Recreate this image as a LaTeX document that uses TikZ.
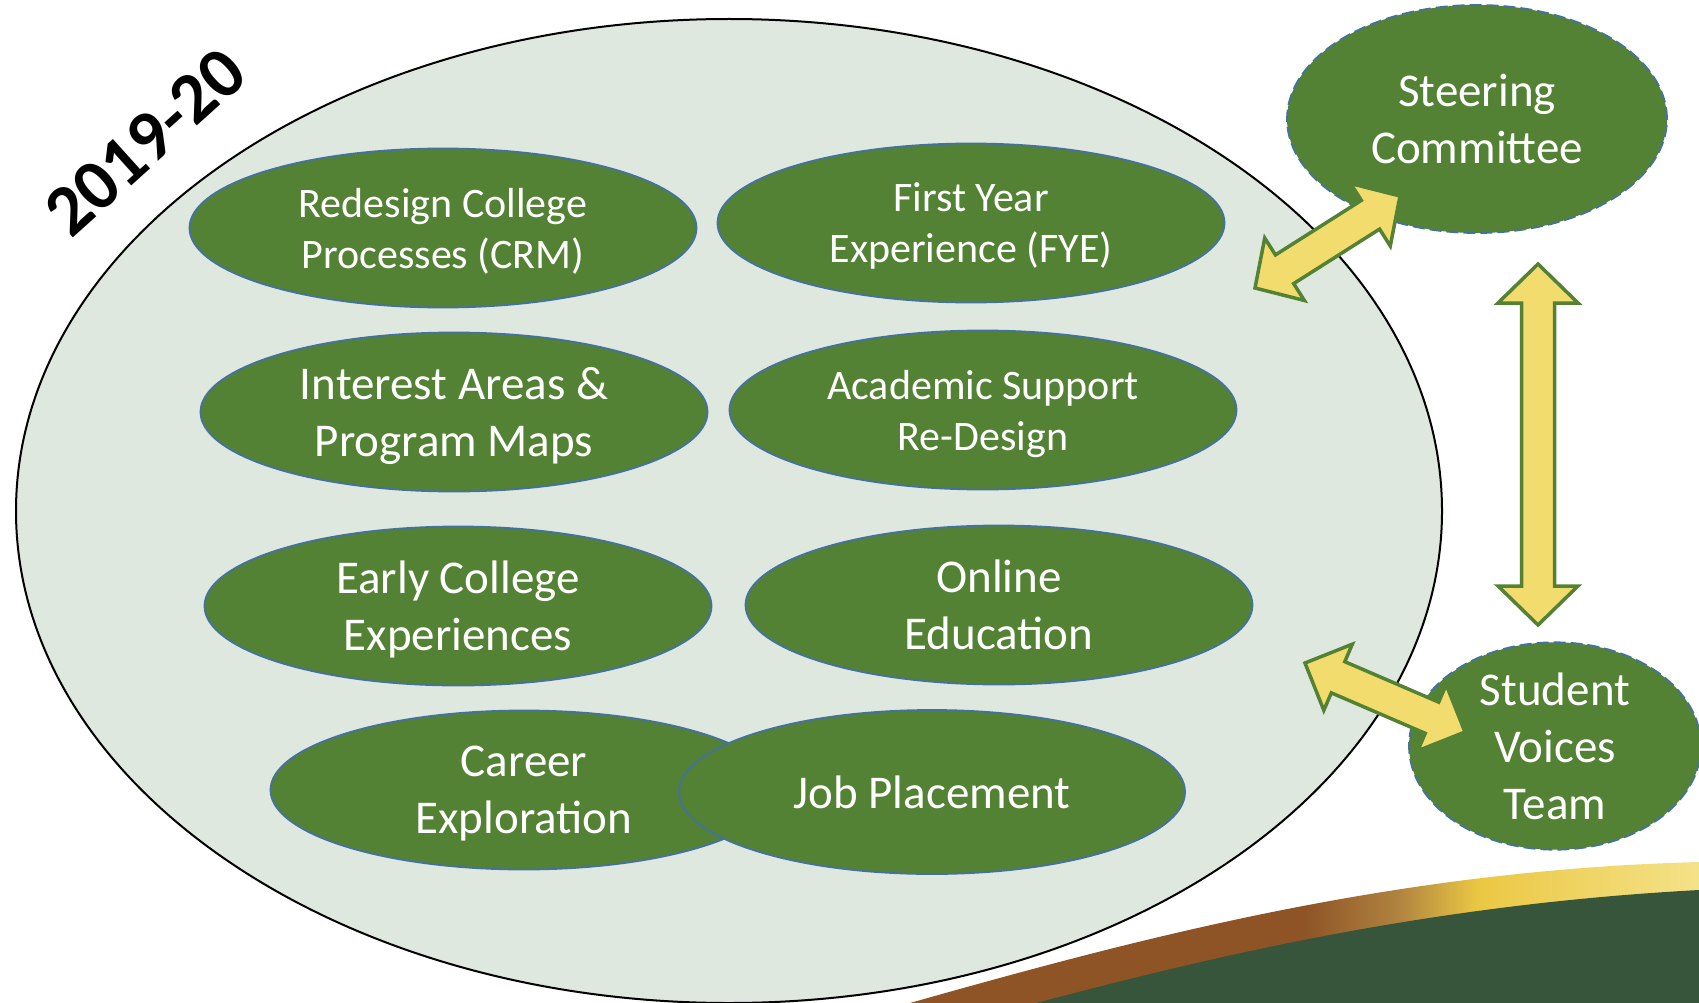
\documentclass[tikz,border=0pt]{standalone}
\usepackage{fontspec}
\setmainfont{Carlito}
\usetikzlibrary{shapes.geometric,calc}
\definecolor{gfill}{HTML}{548235}
\definecolor{eblue}{HTML}{4472A0}
\definecolor{bigfill}{HTML}{DFE8DF}
\definecolor{arrfill}{HTML}{F2DC6E}
\definecolor{darkgreen}{HTML}{37553A}
\definecolor{swbrown}{HTML}{8E5426}
\definecolor{swtan}{HTML}{B08440}
\definecolor{swgold}{HTML}{EBC843}
\definecolor{swlight}{HTML}{F4E289}
\pgfdeclarehorizontalshading{swoosh}{100bp}{color(0bp)=(swbrown); color(25bp)=(swbrown); color(50bp)=(swbrown); color(56bp)=(swtan); color(61bp)=(swgold); color(75bp)=(swlight); color(100bp)=(swlight)}
\newcommand\dblarrow[5]{%
\draw[blockarrow] let \p1=(#1), \p2=(#2), \n1={atan2(\y2-\y1,\x2-\x1)}, \n2={veclen(\x2-\x1,\y2-\y1)} in
 (\p1) -- ($(\p1)+(\n1:#3)+(\n1+90:#4)$) -- ($(\p1)+(\n1:#3)+(\n1+90:#5)$)
 -- ($(\p1)+(\n1:\n2-#3)+(\n1+90:#5)$) -- ($(\p1)+(\n1:\n2-#3)+(\n1+90:#4)$)
 -- (\p2) -- ($(\p1)+(\n1:\n2-#3)+(\n1-90:#4)$) -- ($(\p1)+(\n1:\n2-#3)+(\n1-90:#5)$)
 -- ($(\p1)+(\n1:#3)+(\n1-90:#5)$) -- ($(\p1)+(\n1:#3)+(\n1-90:#4)$) -- cycle;}
\begin{document}
\begin{tikzpicture}[x=1pt,y=1pt,
  bigell/.style={ellipse, draw=black, line width=2pt, fill=bigfill, minimum width=1426pt, minimum height=984pt, inner sep=0pt},
  topic/.style={ellipse, draw=eblue, line width=1.8pt, fill=gfill, text=white, align=center, inner sep=0pt, text depth=0pt, minimum width=507pt, minimum height=159pt},
  smalltxt/.style={font=\fontsize{42}{51}\selectfont},
  largetxt/.style={font=\fontsize{47}{57}\selectfont},
  team/.style={ellipse, draw=eblue, line width=1.8pt, dash pattern=on 12pt off 5pt, fill=gfill, text=white, align=center, inner sep=0pt, text depth=0pt, font=\fontsize{47}{57}\selectfont},
  blockarrow/.style={draw=gfill, line width=3.5pt, fill=arrfill, line join=miter},
  title/.style={font=\fontsize{72}{76}\selectfont\bfseries, text=black, rotate=42}
]
\useasboundingbox (0,0) rectangle (1699,-1003);
\begin{scope}
\clip (0,0) rectangle (1699,-1003);
% swoosh band and dark green
\path[shading=swoosh] (910,-1003) .. controls (1150,-935) and (1400,-870) .. (1699,-862) -- (1699,-1003) -- cycle;
\fill[darkgreen] (1036,-1003) .. controls (1200,-960) and (1420,-905) .. (1699,-890) -- (1699,-1003) -- cycle;
% big ellipse
\node[bigell] (main) at (729,-511) {};
% title
\node[title] (yr) at (145,-142) {2019-20};
% topics
\node[topic, smalltxt] (crm) at (443,-228) {Redesign College\\Processes (CRM)};
\node[topic, smalltxt] (fye) at (971,-223) {First Year\\Experience (FYE)};
\node[topic, largetxt] (iam) at (454,-412) {Interest Areas \&\\Program Maps};
\node[topic, smalltxt] (asr) at (983,-410) {Academic Support\\Re-Design};
\node[topic, largetxt] (ece) at (458,-606) {Early College\\Experiences};
\node[topic, largetxt] (onl) at (999,-605) {Online\\Education};
\node[topic, largetxt] (car) at (524,-790) {Career\\Exploration};
\node[topic, largetxt, minimum width=506pt, minimum height=164pt] (job) at (932,-792) {Job Placement};
% teams
\node[team, minimum width=380pt, minimum height=228pt] (steer) at (1477,-119) {Steering\\Committee};
\node[team, minimum width=292pt, minimum height=206pt] (stud) at (1555,-746) {Student\\Voices\\Team};
% arrows
\coordinate (a1) at (1255,-288);
\coordinate (a2) at (1400,-196);
\coordinate (b1) at (1538,-264);
\coordinate (b2) at (1538,-625);
\coordinate (c1) at (1305,-663);
\coordinate (c2) at (1465,-732);
\dblarrow{a1}{a2}{35}{37}{17}
\dblarrow{b1}{b2}{39}{40}{16.5}
\dblarrow{c1}{c2}{36}{36}{17}
\end{scope}
\end{tikzpicture}
\end{document}
